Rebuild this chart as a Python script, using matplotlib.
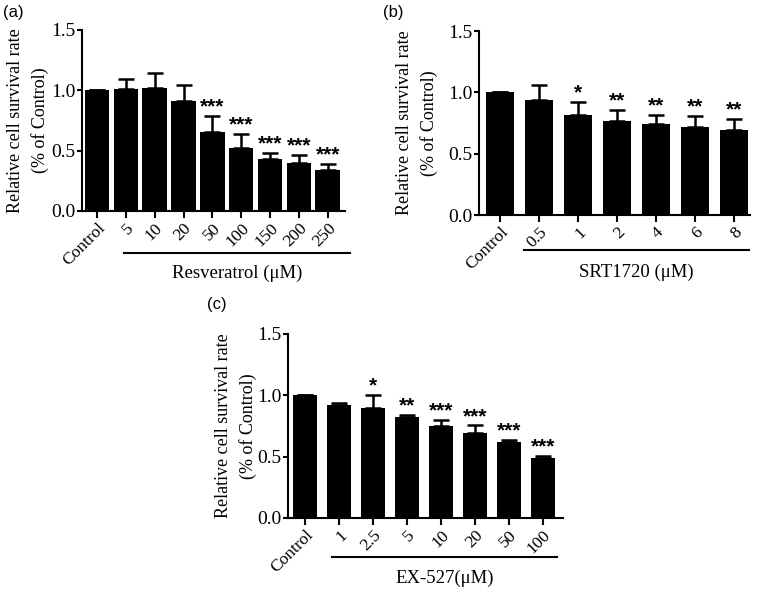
import matplotlib
matplotlib.use("Agg")
import matplotlib.pyplot as plt
import matplotlib.transforms as mtransforms

# ---- data ----
res_labels = ["Control", "5", "10", "20", "50", "100", "150", "200", "250"]
res_means = [1.00, 1.014, 1.022, 0.91, 0.658, 0.525, 0.43, 0.40, 0.339]
res_err = [0.0, 0.083, 0.118, 0.137, 0.128, 0.115, 0.05, 0.067, 0.051]
res_sig = ["", "", "", "", "***", "***", "***", "***", "***"]

srt_labels = ["Control", "0.5", "1", "2", "4", "6", "8"]
srt_means = [1.00, 0.941, 0.819, 0.765, 0.738, 0.719, 0.692]
srt_err = [0.0, 0.122, 0.103, 0.089, 0.081, 0.087, 0.092]
srt_sig = ["", "", "*", "**", "**", "**", "**"]

ex_labels = ["Control", "1", "2.5", "5", "10", "20", "50", "100"]
ex_means = [1.00, 0.924, 0.894, 0.821, 0.747, 0.693, 0.622, 0.492]
ex_err = [0.0, 0.014, 0.110, 0.022, 0.052, 0.062, 0.016, 0.014]
ex_sig = ["", "", "*", "**", "***", "***", "***", "***"]

W, H = 759, 592
fig = plt.figure(figsize=(W / 100, H / 100), dpi=100)
serif = ["Liberation Serif", "DejaVu Serif"]
sans = ["Liberation Sans", "DejaVu Sans"]


def px_axes(left, right, top, bottom):
    return fig.add_axes([left / W, 1 - bottom / H, (right - left) / W, (bottom - top) / H])


def panel(ax, labels, means, err, sig, width, xlim, group_label, line_x, line_y, label_y, ylab_x):
    x = list(range(len(labels)))
    ax.bar(x, means, width=width, color="black", edgecolor="black", linewidth=0, zorder=2)
    lower = [0] * len(err)
    ax.errorbar(x, means, yerr=[lower, err], fmt="none", ecolor="black",
                elinewidth=1.8, capsize=6, capthick=1.8, zorder=1)
    for xi, m, e, s in zip(x, means, err, sig):
        if s:
            ax.text(xi, m + e - 0.005, s, ha="center", va="bottom",
                    fontsize=15, fontweight="bold", family=sans)
    ax.set_xlim(*xlim)
    ax.set_ylim(0, 1.5)
    ax.set_yticks([0.0, 0.5, 1.0, 1.5])
    ax.set_yticklabels(["0.0", "0.5", "1.0", "1.5"], family=serif, fontsize=14)
    ax.set_xticks(x)
    ax.set_xticklabels(labels, rotation=45, ha="right", rotation_mode="anchor",
                       family=serif, fontsize=12.5)
    for s in ["top", "right"]:
        ax.spines[s].set_visible(False)
    for s in ["left", "bottom"]:
        ax.spines[s].set_linewidth(1.5)
    ax.tick_params(axis="y", width=1.5, length=3.5, pad=1)
    ax.tick_params(axis="x", width=1.5, length=5, pad=1.5)
    ax.set_ylabel("Relative cell survival rate\n(% of Control)", family=serif,
                  fontsize=13, linespacing=1.5)
    ax.yaxis.set_label_coords(ylab_x, 0.5)
    trans = mtransforms.blended_transform_factory(ax.transData, ax.transAxes)
    ax.plot(line_x, [line_y, line_y], color="black", lw=1.5, transform=trans, clip_on=False)
    ax.text((line_x[0] + line_x[1]) / 2, label_y, group_label, transform=trans,
            ha="center", va="center", family=serif, fontsize=13.5)


ax_a = px_axes(82, 345, 30, 211)
panel(ax_a, res_labels, res_means, res_err, res_sig, 0.85, (-0.52, 8.6),
      "Resveratrol (\u03bcM)", [0.95, 8.77], -0.232, -0.345, -0.125)

ax_b = px_axes(479, 750, 31, 215)
panel(ax_b, srt_labels, srt_means, srt_err, srt_sig, 0.72, (-0.54, 6.42),
      "SRT1720 (\u03bcM)", [0.62, 6.4], -0.19, -0.31, -0.151)

ax_c = px_axes(288, 563, 334, 518)
panel(ax_c, ex_labels, ex_means, ex_err, ex_sig, 0.71, (-0.5, 7.6),
      "EX-527(\u03bcM)", [0.8, 7.43], -0.21, -0.33, -0.113)

fig.text(3 / W, 1 - 12 / H, "(a)", family=sans, fontsize=12, va="center", ha="left")
fig.text(383 / W, 1 - 12 / H, "(b)", family=sans, fontsize=12, va="center", ha="left")
fig.text(207 / W, 1 - 305 / H, "(c)", family=sans, fontsize=12, va="center", ha="left")

fig.savefig("out.png", dpi=100)
